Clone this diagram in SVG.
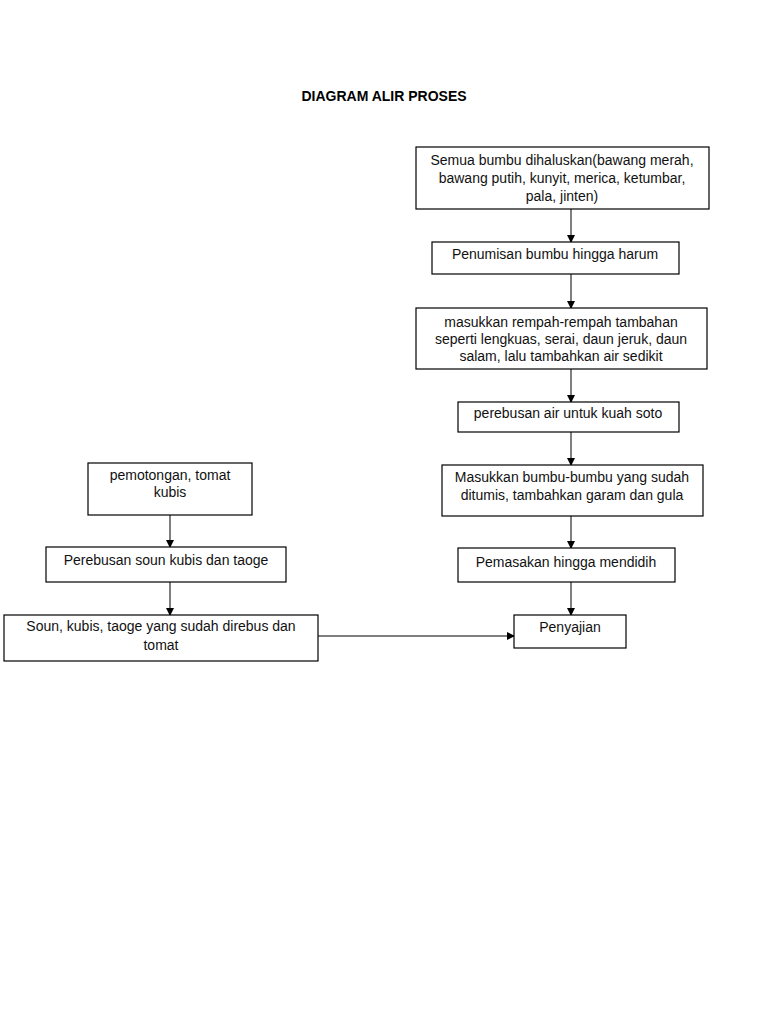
<svg xmlns="http://www.w3.org/2000/svg" width="768" height="1024" viewBox="0 0 768 1024">
<style>
.box{fill:#fff;stroke:#000;stroke-width:1.2}
.t{font-family:"Liberation Sans",Arial,sans-serif;font-size:14px;fill:#111;text-anchor:middle}
.title{font-family:"Liberation Sans",Arial,sans-serif;font-size:14px;font-weight:bold;fill:#000;text-anchor:middle}
.c{stroke:#000;stroke-width:1;fill:none;marker-end:url(#ah)}
</style>
<defs>
<marker id="ah" markerWidth="8" markerHeight="8" refX="7" refY="4" orient="auto" markerUnits="userSpaceOnUse">
<path d="M0,0 L8,4 L0,8 Z" fill="#000"/>
</marker>
</defs>
<rect width="768" height="1024" fill="#fff"/>
<text class="title" x="384" y="101">DIAGRAM ALIR PROSES</text>
<g id="connectors">
<line class="c" x1="571" y1="209" x2="571" y2="242"/>
<line class="c" x1="571" y1="274" x2="571" y2="308"/>
<line class="c" x1="571" y1="369" x2="571" y2="402"/>
<line class="c" x1="571" y1="432" x2="571" y2="465"/>
<line class="c" x1="571" y1="516" x2="571" y2="548"/>
<line class="c" x1="571" y1="582" x2="571" y2="615"/>
<line class="c" x1="170" y1="515" x2="170" y2="547"/>
<line class="c" x1="170" y1="582" x2="170" y2="615"/>
<line class="c" x1="318" y1="636" x2="514" y2="636"/>
</g>
<g id="n1"><rect class="box" x="416" y="147" width="293" height="62"/>
<text class="t" x="562" y="165">Semua bumbu dihaluskan(bawang merah,</text>
<text class="t" x="562" y="183">bawang putih, kunyit, merica, ketumbar,</text>
<text class="t" x="562" y="201">pala, jinten)</text></g>
<g id="n2"><rect class="box" x="432" y="242" width="247" height="32"/>
<text class="t" x="555" y="259">Penumisan bumbu hingga harum</text></g>
<g id="n3"><rect class="box" x="416" y="308" width="291" height="61"/>
<text class="t" x="561" y="327">masukkan rempah-rempah tambahan</text>
<text class="t" x="561" y="344">seperti lengkuas, serai, daun jeruk, daun</text>
<text class="t" x="561" y="361">salam, lalu tambahkan air sedikit</text></g>
<g id="n4"><rect class="box" x="458" y="402" width="221" height="30"/>
<text class="t" x="568" y="418">perebusan air untuk kuah soto</text></g>
<g id="n5"><rect class="box" x="442" y="465" width="261" height="51"/>
<text class="t" x="572" y="482">Masukkan bumbu-bumbu yang sudah</text>
<text class="t" x="572" y="500">ditumis, tambahkan garam dan gula</text></g>
<g id="n6"><rect class="box" x="458" y="548" width="217" height="34"/>
<text class="t" x="566" y="567">Pemasakan hingga mendidih</text></g>
<g id="n7"><rect class="box" x="514" y="615" width="112" height="33"/>
<text class="t" x="570" y="632">Penyajian</text></g>
<g id="l1"><rect class="box" x="88" y="463" width="164" height="52"/>
<text class="t" x="170" y="480">pemotongan, tomat</text>
<text class="t" x="170" y="497">kubis</text></g>
<g id="l2"><rect class="box" x="46" y="547" width="240" height="35"/>
<text class="t" x="166" y="565">Perebusan soun kubis dan taoge</text></g>
<g id="l3"><rect class="box" x="4" y="615" width="314" height="46"/>
<text class="t" x="161" y="631">Soun, kubis, taoge yang sudah direbus dan</text>
<text class="t" x="161" y="650">tomat</text></g>
</svg>
